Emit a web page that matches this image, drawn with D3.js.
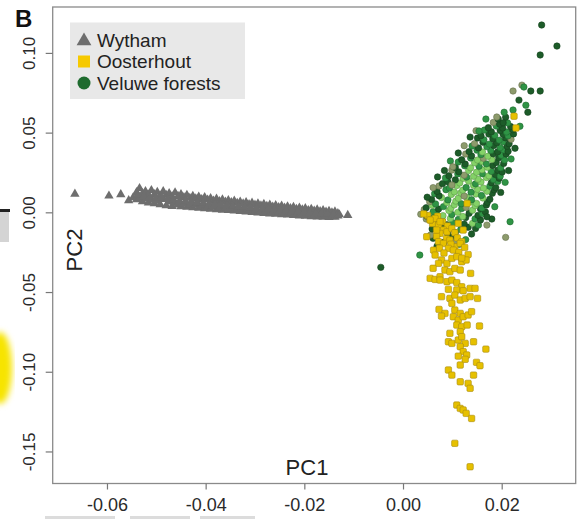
<!DOCTYPE html>
<html>
<head>
<meta charset="utf-8">
<script src="https://cdn.jsdelivr.net/npm/d3@7"></script>
<style>
  body { margin: 0; background: #fff; }
  svg { display: block; }
  text { font-family: "Liberation Sans", Arial, Helvetica, sans-serif; }
</style>
</head>
<body>
<svg id="chart" width="577" height="519"></svg>
<script>
// ---- axis ticks ----
const xTicks = [-0.06, -0.04, -0.02, 0.00, 0.02];
const xTickLabels = ["-0.06", "-0.04", "-0.02", "0.00", "0.02"];
const yTicks = [-0.15, -0.10, -0.05, 0.00, 0.05, 0.10];
const yTickLabels = ["-0.15", "-0.10", "-0.05", "0.00", "0.05", "0.10"];

// ---- populations ----
const populations = ["Wytham", "Oosterhout", "Veluwe forests"];

// Wytham individuals: [PC1, PC2]
const wytham = [
  [-0.0665,0.0115],[-0.0596,0.0103],[-0.0572,0.0112],[-0.0556,0.0074],[-0.0547,0.0092],
  [-0.0540,0.0125],[-0.0540,0.0080],[-0.0534,0.0150],[-0.0534,0.0090],[-0.0528,0.0118],[-0.0528,0.0068],
  [-0.0522,0.0132],[-0.0522,0.0085],[-0.0516,0.0109],[-0.0516,0.0060],[-0.0510,0.0138],[-0.0510,0.0077],
  [-0.0504,0.0112],[-0.0504,0.0055],[-0.0498,0.0127],[-0.0498,0.0070],[-0.0492,0.0103],[-0.0492,0.0049],
  [-0.0486,0.0131],[-0.0486,0.0081],[-0.0480,0.0108],[-0.0480,0.0042],[-0.0474,0.0119],[-0.0474,0.0066],
  [-0.0468,0.0098],[-0.0468,0.0038],[-0.0462,0.0124],[-0.0462,0.0059],[-0.0456,0.0101],[-0.0456,0.0047],
  [-0.0450,0.0113],[-0.0450,0.0036],[-0.0444,0.0094],[-0.0444,0.0052],[-0.0438,0.0108],[-0.0438,0.0033],
  [-0.0432,0.0089],[-0.0432,0.0046],[-0.0426,0.0102],[-0.0426,0.0030],[-0.0420,0.0085],[-0.0420,0.0049],
  [-0.0414,0.0097],[-0.0414,0.0027],[-0.0408,0.0081],[-0.0408,0.0041],[-0.0402,0.0093],[-0.0402,0.0024],
  [-0.0396,0.0078],[-0.0396,0.0035],[-0.0390,0.0088],[-0.0390,0.0020],[-0.0384,0.0072],[-0.0384,0.0038],
  [-0.0378,0.0084],[-0.0378,0.0017],[-0.0372,0.0069],[-0.0372,0.0030],[-0.0366,0.0079],[-0.0366,0.0014],
  [-0.0360,0.0065],[-0.0360,0.0027],[-0.0354,0.0075],[-0.0354,0.0012],[-0.0348,0.0062],[-0.0348,0.0023],
  [-0.0342,0.0071],[-0.0342,0.0009],[-0.0336,0.0058],[-0.0336,0.0019],[-0.0330,0.0066],[-0.0330,0.0006],
  [-0.0324,0.0054],[-0.0324,0.0016],[-0.0318,0.0063],[-0.0318,0.0003],[-0.0312,0.0050],[-0.0312,0.0012],
  [-0.0306,0.0059],[-0.0306,0.0000],[-0.0300,0.0046],[-0.0300,0.0009],[-0.0294,0.0055],[-0.0294,-0.0003],
  [-0.0288,0.0042],[-0.0288,0.0006],[-0.0282,0.0051],[-0.0282,-0.0006],[-0.0276,0.0038],[-0.0276,0.0003],
  [-0.0270,0.0047],[-0.0270,-0.0009],[-0.0264,0.0034],[-0.0264,0.0000],[-0.0258,0.0043],[-0.0258,-0.0011],
  [-0.0252,0.0031],[-0.0252,-0.0003],[-0.0246,0.0040],[-0.0246,-0.0014],[-0.0240,0.0027],[-0.0240,-0.0006],
  [-0.0234,0.0036],[-0.0234,-0.0016],[-0.0228,0.0024],[-0.0228,-0.0009],[-0.0222,0.0032],[-0.0222,-0.0019],
  [-0.0216,0.0020],[-0.0216,-0.0012],[-0.0210,0.0028],[-0.0210,-0.0021],[-0.0204,0.0016],[-0.0204,-0.0014],
  [-0.0198,0.0024],[-0.0198,-0.0024],[-0.0192,0.0012],[-0.0192,-0.0017],[-0.0186,0.0020],[-0.0186,-0.0026],
  [-0.0180,0.0009],[-0.0180,-0.0019],[-0.0174,0.0016],[-0.0174,-0.0028],[-0.0168,0.0005],[-0.0168,-0.0021],
  [-0.0162,0.0012],[-0.0162,-0.0030],[-0.0156,0.0002],[-0.0156,-0.0024],[-0.0150,0.0008],[-0.0150,-0.0031],
  [-0.0144,-0.0002],[-0.0144,-0.0026],[-0.0138,0.0004],[-0.0138,-0.0029],[-0.0132,-0.0006],[-0.0132,-0.0022],
  [-0.0112,-0.0018],
  [-0.0537,0.0108],[-0.0525,0.0100],[-0.0513,0.0094],[-0.0501,0.0090],[-0.0489,0.0092],[-0.0477,0.0085],
  [-0.0465,0.0079],[-0.0453,0.0072],[-0.0441,0.0071],[-0.0429,0.0066],[-0.0417,0.0062],[-0.0405,0.0058],
  [-0.0393,0.0054],[-0.0381,0.0051],[-0.0369,0.0047],[-0.0357,0.0044],[-0.0345,0.0040],[-0.0333,0.0037],
  [-0.0321,0.0033],[-0.0309,0.0030],[-0.0297,0.0026],[-0.0285,0.0022],[-0.0273,0.0019],[-0.0261,0.0016],
  [-0.0249,0.0013],[-0.0237,0.0010],[-0.0225,0.0006],[-0.0213,0.0003],[-0.0201,0.0000],[-0.0189,-0.0003],
  [-0.0177,-0.0006],[-0.0165,-0.0008],[-0.0153,-0.0011],[-0.0141,-0.0013],[-0.0129,-0.0014]
];

// Oosterhout individuals: [PC1, PC2]
const oosterhout = [
  [0.0225,0.0603],[0.0229,0.0529],[0.0130,0.0056],
  [0.0050,-0.0020],[0.0042,-0.0010],[0.0070,-0.0025],[0.0060,-0.0070],[0.0080,-0.0060],[0.0090,-0.0085],
  [0.0055,-0.0048],[0.0065,-0.0038],[0.0072,-0.0080],[0.0082,-0.0111],[0.0075,-0.0132],[0.0089,-0.0122],
  [0.0099,-0.0101],[0.0112,-0.0069],[0.0122,-0.0111],[0.0105,-0.0128],[0.0068,-0.0150],[0.0088,-0.0165],
  [0.0110,-0.0160],[0.0048,-0.0153],[0.0055,-0.0048],[0.0075,-0.0059],[0.0068,-0.0111],[0.0095,-0.0174],
  [0.0105,-0.0216],[0.0119,-0.0184],[0.0116,-0.0195],[0.0072,-0.0184],[0.0082,-0.0195],[0.0097,-0.0200],
  [0.0092,-0.0226],[0.0102,-0.0237],[0.0062,-0.0237],[0.0125,-0.0220],[0.0074,-0.0225],[0.0113,-0.0250],
  [0.0083,-0.0255],[0.0132,-0.0265],[0.0065,-0.0268],[0.0078,-0.0299],[0.0089,-0.0320],[0.0099,-0.0289],
  [0.0109,-0.0278],[0.0119,-0.0310],[0.0128,-0.0299],[0.0119,-0.0287],[0.0072,-0.0320],[0.0085,-0.0362],
  [0.0095,-0.0372],[0.0105,-0.0352],[0.0116,-0.0362],[0.0137,-0.0383],[0.0061,-0.0351],[0.0055,-0.0414],
  [0.0065,-0.0421],[0.0075,-0.0404],[0.0075,-0.0425],[0.0089,-0.0435],[0.0099,-0.0425],[0.0109,-0.0441],
  [0.0119,-0.0467],[0.0109,-0.0487],[0.0122,-0.0492],[0.0136,-0.0477],[0.0146,-0.0477],[0.0092,-0.0483],
  [0.0078,-0.0529],[0.0095,-0.0540],[0.0105,-0.0519],[0.0116,-0.0550],[0.0126,-0.0540],[0.0136,-0.0529],
  [0.0151,-0.0540],[0.0073,-0.0609],[0.0085,-0.0634],[0.0078,-0.0651],[0.0099,-0.0571],[0.0105,-0.0613],
  [0.0116,-0.0634],[0.0102,-0.0655],[0.0112,-0.0676],[0.0122,-0.0655],[0.0132,-0.0644],[0.0139,-0.0623],
  [0.0109,-0.0707],[0.0119,-0.0718],[0.0130,-0.0707],[0.0155,-0.0713],[0.0116,-0.0749],[0.0095,-0.0759],
  [0.0092,-0.0812],[0.0099,-0.0822],[0.0112,-0.0801],[0.0119,-0.0780],[0.0126,-0.0822],[0.0143,-0.0812],
  [0.0116,-0.0843],[0.0122,-0.0874],[0.0129,-0.0895],[0.0112,-0.0902],[0.0126,-0.0922],[0.0168,-0.0858],
  [0.0149,-0.0941],[0.0156,-0.0962],[0.0116,-0.0958],[0.0092,-0.0989],[0.0099,-0.1021],[0.0143,-0.1021],
  [0.0116,-0.1063],[0.0132,-0.1073],[0.0136,-0.1104],[0.0109,-0.1209],[0.0116,-0.1230],[0.0122,-0.1240],
  [0.0128,-0.1261],[0.0139,-0.1293],[0.0105,-0.1449],[0.0136,-0.1596]
];

// Veluwe individuals: [PC1, PC2, forest subgroup 0-3]
const veluwe = [
  [0.0083,-0.0188,0],[0.0114,-0.0201,1],[0.0069,-0.0212,0],
  [0.0061,-0.0163,0],[0.0097,-0.0158,0],[0.0127,-0.0171,1],[0.0108,-0.0182,3],
  [0.0074,-0.0131,1],[0.0091,-0.0139,0],[0.0106,-0.0127,0],[0.0139,-0.0136,0],[0.0056,-0.0142,3],
  [0.0059,-0.0104,0],[0.0083,-0.0097,0],[0.0117,-0.0108,1],[0.0132,-0.0094,0],[0.0147,-0.0101,0],
  [0.0066,-0.0071,1],[0.0089,-0.0078,0],[0.0101,-0.0066,1],[0.0124,-0.0074,0],[0.0141,-0.0069,2],[0.0153,-0.0080,1],
  [0.0047,-0.0042,3],[0.0061,-0.0036,1],[0.0079,-0.0046,0],[0.0096,-0.0039,2],[0.0112,-0.0045,1],[0.0127,-0.0033,0],[0.0146,-0.0041,1],[0.0157,-0.0048,0],
  [0.0036,-0.0012,3],[0.0049,-0.0024,0],[0.0068,-0.0009,1],[0.0081,-0.0021,2],[0.0099,-0.0014,1],[0.0121,-0.0026,2],[0.0134,-0.0006,0],[0.0152,-0.0019,0],[0.0161,-0.0008,1],
  [0.0043,0.0018,3],[0.0061,0.0004,1],[0.0072,0.0021,0],[0.0093,0.0011,2],[0.0111,0.0000,2],[0.0119,0.0024,1],[0.0141,0.0013,2],[0.0157,0.0022,0],[0.0167,0.0003,0],
  [0.0047,0.0029,0],[0.0059,0.0044,2],[0.0082,0.0036,1],[0.0097,0.0025,2],[0.0104,0.0047,2],[0.0128,0.0031,3],[0.0146,0.0042,2],[0.0160,0.0027,1],[0.0169,0.0046,0],
  [0.0054,0.0067,3],[0.0066,0.0053,1],[0.0089,0.0061,2],[0.0107,0.0070,2],[0.0118,0.0054,1],[0.0136,0.0066,2],[0.0149,0.0056,2],[0.0171,0.0063,0],
  [0.0058,0.0081,0],[0.0078,0.0093,2],[0.0091,0.0078,1],[0.0112,0.0088,2],[0.0129,0.0095,2],[0.0139,0.0079,1],[0.0162,0.0090,2],[0.0176,0.0082,0],
  [0.0064,0.0117,1],[0.0073,0.0104,0],[0.0098,0.0112,2],[0.0117,0.0121,2],[0.0124,0.0102,3],[0.0148,0.0115,2],[0.0159,0.0106,1],[0.0181,0.0119,0],
  [0.0069,0.0131,0],[0.0087,0.0142,1],[0.0104,0.0128,2],[0.0121,0.0139,2],[0.0138,0.0126,1],[0.0151,0.0144,2],[0.0170,0.0132,2],[0.0185,0.0141,0],
  [0.0073,0.0165,3],[0.0094,0.0153,1],[0.0109,0.0168,2],[0.0128,0.0156,1],[0.0143,0.0169,2],[0.0163,0.0152,2],[0.0176,0.0164,1],[0.0188,0.0155,0],
  [0.0080,0.0180,0],[0.0091,0.0192,0],[0.0115,0.0184,2],[0.0133,0.0195,2],[0.0147,0.0179,1],[0.0158,0.0190,2],[0.0179,0.0186,0],[0.0192,0.0194,1],
  [0.0086,0.0216,1],[0.0106,0.0204,0],[0.0122,0.0213,2],[0.0129,0.0221,1],[0.0152,0.0208,2],[0.0169,0.0218,2],[0.0183,0.0206,1],[0.0195,0.0214,0],
  [0.0093,0.0229,0],[0.0111,0.0241,1],[0.0124,0.0233,3],[0.0143,0.0226,2],[0.0161,0.0242,1],[0.0174,0.0229,2],[0.0187,0.0238,0],[0.0197,0.0227,1],
  [0.0099,0.0265,3],[0.0113,0.0254,0],[0.0133,0.0262,2],[0.0149,0.0251,2],[0.0160,0.0267,2],[0.0179,0.0257,1],[0.0192,0.0264,0],[0.0201,0.0253,0],
  [0.0106,0.0281,0],[0.0125,0.0292,1],[0.0137,0.0279,2],[0.0154,0.0289,1],[0.0171,0.0283,2],[0.0182,0.0294,0],[0.0198,0.0280,1],
  [0.0112,0.0316,1],[0.0126,0.0303,0],[0.0145,0.0311,2],[0.0161,0.0318,2],[0.0169,0.0304,1],[0.0189,0.0313,0],[0.0204,0.0307,0],
  [0.0119,0.0330,0],[0.0137,0.0341,1],[0.0151,0.0328,2],[0.0163,0.0339,3],[0.0180,0.0331,2],[0.0194,0.0342,0],[0.0206,0.0329,1],
  [0.0127,0.0366,3],[0.0139,0.0354,0],[0.0158,0.0362,1],[0.0172,0.0352,2],[0.0183,0.0367,0],[0.0199,0.0358,1],[0.0209,0.0366,0],
  [0.0134,0.0381,0],[0.0150,0.0390,1],[0.0161,0.0379,2],[0.0178,0.0388,1],[0.0192,0.0380,0],[0.0204,0.0392,1],[0.0213,0.0383,0],
  [0.0140,0.0416,1],[0.0153,0.0404,0],[0.0170,0.0412,1],[0.0184,0.0419,0],[0.0197,0.0406,1],[0.0211,0.0414,0],
  [0.0145,0.0431,3],[0.0162,0.0440,0],[0.0175,0.0428,1],[0.0190,0.0437,0],[0.0203,0.0442,1],[0.0215,0.0430,0],
  [0.0151,0.0466,0],[0.0164,0.0455,1],[0.0182,0.0462,0],[0.0195,0.0453,1],[0.0208,0.0467,0],[0.0219,0.0458,3],
  [0.0158,0.0481,0],[0.0174,0.0491,0],[0.0186,0.0483,1],[0.0203,0.0489,0],[0.0213,0.0480,1],[0.0224,0.0492,0],
  [0.0165,0.0516,1],[0.0179,0.0505,0],[0.0197,0.0513,0],[0.0210,0.0504,1],[0.0222,0.0518,0],
  [0.0173,0.0531,0],[0.0189,0.0541,1],[0.0202,0.0529,0],[0.0218,0.0538,0],
  [0.0183,0.0564,3],[0.0196,0.0553,0],[0.0212,0.0561,1],
  [0.0193,0.0586,0],[0.0208,0.0597,0],
  [0.0061,0.0155,3],[0.0070,0.0222,0],[0.0084,0.0262,0],[0.0096,0.0322,1],[0.0112,0.0372,0],
  [0.0124,0.0418,3],[0.0136,0.0472,0],[0.0148,0.0512,3],[0.0049,0.0095,0],[0.0198,0.0125,0],
  [0.0207,0.0188,1],[0.0214,0.0262,0],[0.0219,0.0335,1],[0.0227,0.0402,0],[0.0186,0.0035,1],
  [0.0180,-0.0042,0],[0.0205,0.0628,1],[0.0168,0.0585,1],
  [0.0281,0.1175,0],[0.0312,0.1043,0],[0.0278,0.0987,0],[0.0278,0.0761,0],[0.0259,0.0761,0],
  [0.0241,0.0798,3],[0.0245,0.0786,1],[0.0223,0.0761,3],[0.0235,0.0704,0],[0.0249,0.0672,1],
  [0.0253,0.0628,0],[0.0223,0.0642,1],[0.0190,0.0598,3],[0.0154,0.0510,1],[0.0203,0.0562,0],
  [0.0237,0.0540,1],[0.0101,0.0286,3],[0.0099,0.0171,3],[0.0217,-0.0059,1],[0.0208,-0.0157,3],
  [0.0034,-0.0268,1],[0.0170,-0.0028,0],[0.0170,-0.0080,3],[-0.0045,-0.0345,0]
];

// ---- layout ----
const svg = d3.select("#chart");
const plot = { left: 52.7, right: 575.7, top: 7, bottom: 483.5 };

const x = d3.scaleLinear().domain([-0.0710, 0.0350]).range([plot.left, plot.right]);
const y = d3.scaleLinear().domain([-0.1701, 0.1288]).range([plot.bottom, plot.top]);

const color = d3.scaleOrdinal().domain(populations).range(["#6e6e6e", "#e6c000", "#1e6b2e"]);
const forestColor = d3.scaleOrdinal().domain([0, 1, 2, 3]).range(["#1d5c29", "#2f9445", "#84d267", "#8d9b6c"]);

// fragments of the neighbouring panel along the margins
const defs = svg.append("defs");
defs.append("filter").attr("id", "soft").append("feGaussianBlur").attr("stdDeviation", 3);
const edge = svg.append("g");
edge.append("ellipse").attr("cx", 0).attr("cy", 368).attr("rx", 12).attr("ry", 36)
  .attr("fill", "#f7e400").attr("filter", "url(#soft)");
edge.append("rect").attr("x", 0).attr("y", 212).attr("width", 9).attr("height", 30).attr("fill", "#d4d4d4");
edge.append("rect").attr("x", 0).attr("y", 209).attr("width", 10).attr("height", 3).attr("fill", "#222");
edge.selectAll("rect.frag").data([[45, 70], [130, 60], [200, 55]]).join("rect")
  .attr("class", "frag").attr("x", d => d[0]).attr("y", 516).attr("width", d => d[1]).attr("height", 3)
  .attr("fill", "#dcdcdc");

// panel letter
svg.append("text").attr("x", 15).attr("y", 27).text("B")
  .attr("font-size", 24).attr("font-weight", "bold").attr("fill", "#111");

// points: Wytham triangles, Veluwe circles, Oosterhout squares
const tri = d3.symbol().type(d3.symbolTriangle).size(38);
svg.append("g").selectAll("path").data(wytham).join("path")
  .attr("d", tri)
  .attr("transform", d => `translate(${x(d[0])},${y(d[1])})`)
  .attr("fill", color("Wytham"));

svg.append("g").selectAll("circle").data(veluwe).join("circle")
  .attr("cx", d => x(d[0])).attr("cy", d => y(d[1])).attr("r", 3.2)
  .attr("fill", d => forestColor(d[2]))
  .attr("stroke", d => d3.color(forestColor(d[2])).darker(0.9))
  .attr("stroke-width", 0.6);

svg.append("g").selectAll("rect").data(oosterhout).join("rect")
  .attr("x", d => x(d[0]) - 3.2).attr("y", d => y(d[1]) - 3.2)
  .attr("width", 6.4).attr("height", 6.4).attr("rx", 1.3)
  .attr("fill", color("Oosterhout"))
  .attr("stroke", "#a88b10").attr("stroke-width", 0.6);

// frame
svg.append("rect").attr("x", plot.left).attr("y", plot.top)
  .attr("width", plot.right - plot.left).attr("height", plot.bottom - plot.top)
  .attr("fill", "none").attr("stroke", "#8a8a8a").attr("stroke-width", 1.3);

// axes
const xAxis = svg.append("g").attr("transform", `translate(0,${plot.bottom})`)
  .call(d3.axisBottom(x).tickValues(xTicks).tickFormat((d, i) => xTickLabels[i]).tickSize(6).tickPadding(8.5));
xAxis.select(".domain").remove();
xAxis.selectAll("line").attr("stroke", "#777").attr("stroke-width", 1.2);
xAxis.selectAll("text").attr("font-size", 18).attr("fill", "#2a2a2a")
  .attr("font-family", "'Liberation Sans', Arial, sans-serif");

const yAxis = svg.append("g").attr("transform", `translate(${plot.left},0)`)
  .call(d3.axisLeft(y).tickValues(yTicks).tickFormat((d, i) => yTickLabels[i]).tickSize(7));
yAxis.select(".domain").remove();
yAxis.selectAll("line").attr("stroke", "#777").attr("stroke-width", 1.2);
yAxis.selectAll("text")
  .attr("transform", "rotate(-90)")
  .attr("x", 0).attr("y", -17.5).attr("dy", 0)
  .attr("text-anchor", "middle")
  .attr("font-size", 17).attr("fill", "#2a2a2a")
  .attr("font-family", "'Liberation Sans', Arial, sans-serif");

// axis titles inside the frame
svg.append("text").attr("x", 307).attr("y", 475).attr("text-anchor", "middle")
  .attr("font-size", 22).attr("fill", "#222").text("PC1");
svg.append("text").attr("transform", "translate(82,250) rotate(-90)").attr("text-anchor", "middle")
  .attr("font-size", 22).attr("fill", "#222").text("PC2");

// legend
const legend = svg.append("g");
legend.append("rect").attr("x", 70).attr("y", 22.5).attr("width", 175).attr("height", 76.5).attr("fill", "#e8e8e8");
const rowY = d3.scalePoint().domain(populations).range([40, 83]);
const sym = legend.selectAll("g.item").data(populations).join("g")
  .attr("class", "item").attr("transform", d => `translate(84,${rowY(d)})`);
sym.filter(d => d === "Wytham").append("path")
  .attr("d", d3.symbol().type(d3.symbolTriangle).size(95)).attr("transform", "translate(0,1)")
  .attr("fill", color("Wytham"));
sym.filter(d => d === "Oosterhout").append("rect")
  .attr("x", -6).attr("y", -6).attr("width", 12).attr("height", 12).attr("fill", "#f6c900");
sym.filter(d => d === "Veluwe forests").append("circle")
  .attr("r", 6.5).attr("fill", color("Veluwe forests"));
sym.append("text").attr("x", 13).attr("dy", "0.36em")
  .attr("font-size", 19).attr("fill", "#222").text(d => d);
</script>
</body>
</html>
